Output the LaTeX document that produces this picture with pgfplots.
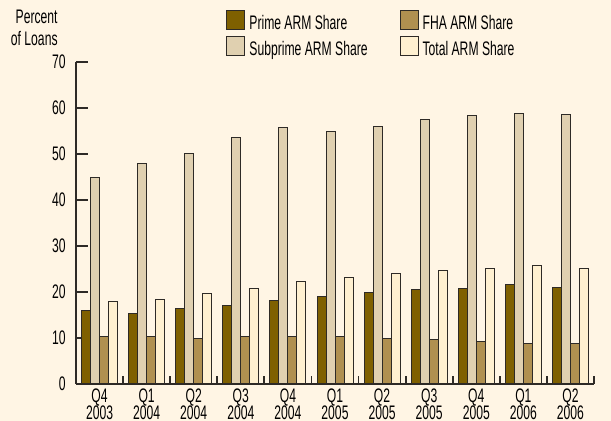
\documentclass[border=0pt]{standalone}
\usepackage{fontspec}
\setmainfont{Liberation Sans}[FakeStretch=0.62]
\usepackage{pgfplots}
\usepackage{pgfplotstable}
\pgfplotsset{compat=1.18}

\definecolor{bgcream}{HTML}{FFF5E4}
\definecolor{primec}{HTML}{7F6000}
\definecolor{subc}{HTML}{E0D0B0}
\definecolor{fhac}{HTML}{B09050}
\definecolor{totalc}{HTML}{FFF0D0}
\definecolor{edgec}{HTML}{2E2A26}

% ARM shares by quarter, Q4 2003 .. Q2 2006 (percent of loans)
\pgfplotstableread{
x prime sub  fha   total
0 15.9  44.8 10.3  17.9
1 15.4  47.9 10.3  18.4
2 16.5  50.2  9.9  19.7
3 17.1  53.5 10.3  20.8
4 18.2  55.7 10.4  22.2
5 19.0  54.8 10.35 23.2
6 19.9  56.0  9.85 24.1
7 20.5  57.4  9.7  24.7
8 20.7  58.4  9.3  25.0
9 21.7  58.8  8.8  25.7
10 21.0 58.6  8.9  25.2
}\armdata

\newcommand{\chartfont}{\fontsize{9.8pt}{10pt}\selectfont}

\begin{document}
\begin{tikzpicture}
% page background
\fill[bgcream] (-38pt,-18.5pt) rectangle (267.5pt,192pt);
\begin{axis}[
  at={(0,0)}, anchor=south west,
  scale only axis, width=259pt, height=161pt,
  ybar=0pt, bar width=4.5pt,
  xmin=-0.5, xmax=10.5, ymin=0, ymax=70,
  enlarge x limits=false, enlarge y limits=false,
  axis x line=bottom, axis y line=left,
  axis line style={-, line width=0.9pt, draw=edgec},
  tick style={line width=0.9pt, draw=edgec},
  tick align=inside,
  major tick length=6pt, minor tick length=4pt,
  ytick={0,10,...,70},
  xtick=data,
  major x tick style={draw=none},
  minor xtick={0.5,1.5,2.5,3.5,4.5,5.5,6.5,7.5,8.5,9.5,10.5},
  xticklabels={{Q4\\[-1.5pt]2003},{Q1\\[-1.5pt]2004},{Q2\\[-1.5pt]2004},{Q3\\[-1.5pt]2004},{Q4\\[-1.5pt]2004},{Q1\\[-1.5pt]2005},{Q2\\[-1.5pt]2005},{Q3\\[-1.5pt]2005},{Q4\\[-1.5pt]2005},{Q1\\[-1.5pt]2006},{Q2\\[-1.5pt]2006}},
  xticklabel style={align=center, font=\chartfont, yshift=1pt},
  yticklabel style={font=\chartfont, xshift=-1.7pt},
  /pgf/number format/assume math mode=true,
  every axis plot/.append style={draw=edgec, line width=0.5pt},
  legend columns=2, transpose legend,
  legend cell align=left,
  legend style={at={(0.278,1.175)}, anchor=north west, draw=none, fill=none,
    font=\chartfont, row sep=-0.5pt,
    /tikz/every even column/.append style={column sep=14pt}},
  legend image code/.code={\draw[#1] (0pt,-2.75pt) rectangle (9pt,6.75pt);},
]
\addplot[fill=primec] table[x=x, y=prime] {\armdata};
\addplot[fill=subc] table[x=x, y=sub] {\armdata};
\addplot[fill=fhac] table[x=x, y=fha] {\armdata};
\addplot[fill=totalc] table[x=x, y=total] {\armdata};
\legend{Prime ARM Share, Subprime ARM Share, FHA ARM Share, Total ARM Share}
\end{axis}
\node[anchor=north east, align=right, inner sep=0pt, font={\fontsize{9.8pt}{11pt}\selectfont}] at (-9pt,187pt) {Percent\\of Loans};
\pgfresetboundingbox
\path (-38pt,-18.5pt) rectangle (267.5pt,192pt);
\end{tikzpicture}
\end{document}
